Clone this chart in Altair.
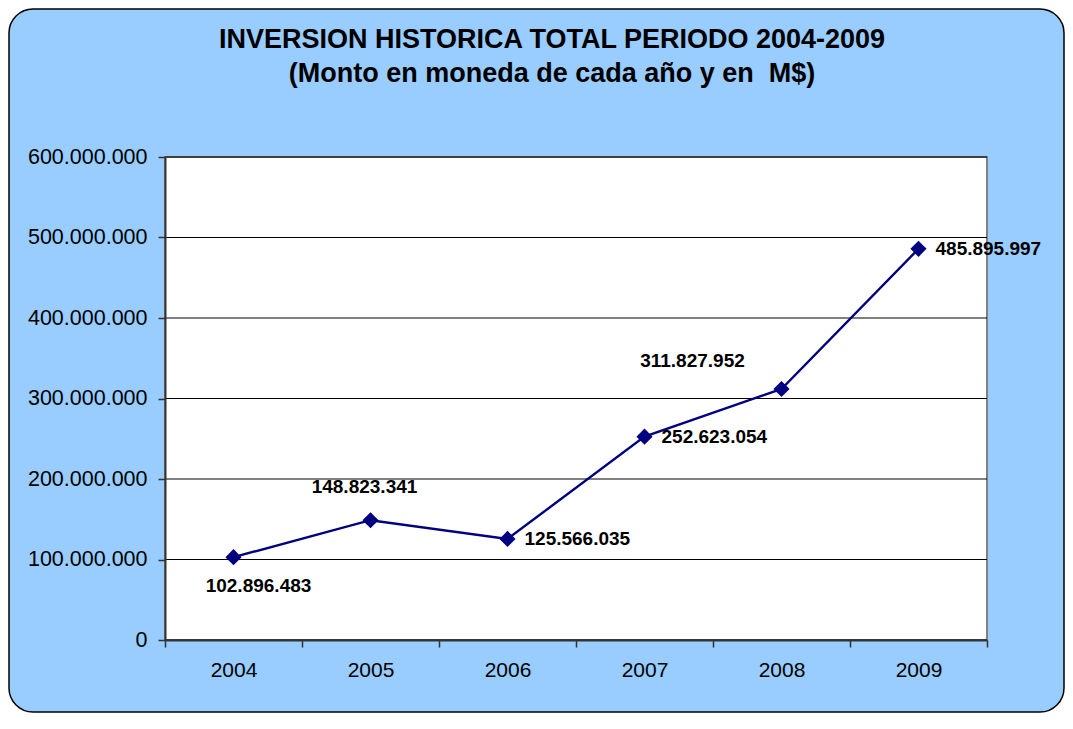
import altair as alt
import pandas as pd

years = ["2004", "2005", "2006", "2007", "2008", "2009"]
values = [102896483, 148823341, 125566035, 252623054, 311827952, 485895997]
labels = ["102.896.483", "148.823.341", "125.566.035", "252.623.054", "311.827.952", "485.895.997"]
y_ticks = [0, 100000000, 200000000, 300000000, 400000000, 500000000, 600000000]
title_line1 = "INVERSION HISTORICA TOTAL PERIODO 2004-2009"
title_line2 = "(Monto en moneda de cada año y en \u00a0M$)"

df = pd.DataFrame({"year": years, "value": values, "label": labels})
grid_df = pd.DataFrame({"value": y_ticks})

W, H = 822, 483
PL, PT, PR, PB = 157, 149, 78, 73
FONT = "Liberation Sans"
NAVY = "#000080"

yscale = alt.Scale(domain=[0, 600000000], nice=False)
xscale = alt.Scale(type="band", paddingInner=0, paddingOuter=0)

one = alt.Data(values=[{"k": 1}])

bg = alt.Chart(one).mark_rect(
    fill="#99CCFF", stroke="black", strokeWidth=1.5, cornerRadius=24
).encode(
    x=alt.value(-PL + 1), x2=alt.value(W + PR - 1),
    y=alt.value(-PT + 1), y2=alt.value(H + PB - 1)
)

plot_bg = alt.Chart(one).mark_rect(
    fill="white", stroke="#808080", strokeWidth=2
).encode(
    x=alt.value(0), x2=alt.value(W), y=alt.value(0), y2=alt.value(H)
)

title1 = alt.Chart(one).mark_text(
    align="center", baseline="alphabetic", fontSize=27, fontWeight="bold",
    font=FONT, color="black"
).encode(x=alt.value(W / 2 - 24), y=alt.value(-109), text=alt.value(title_line1))

title2 = alt.Chart(one).mark_text(
    align="center", baseline="alphabetic", fontSize=27, fontWeight="bold",
    font=FONT, color="black"
).encode(x=alt.value(W / 2 - 24), y=alt.value(-75), text=alt.value(title_line2))

x_enc = alt.X(
    "year:O", scale=xscale, title=None,
    axis=alt.Axis(
        labelAngle=0, tickBand="extent", labelFontSize=21, labelFont=FONT,
        labelColor="black", labelPadding=12, tickSize=7, tickColor="#333333",
        domainColor="#333333", domainWidth=2, tickWidth=1.5, grid=False, zindex=1,
    ),
)
y_axis = alt.Axis(
    values=y_ticks, labelFontSize=21.5, labelFont=FONT, labelColor="black",
    labelPadding=11, tickSize=7, tickColor="#333333", domainColor="#333333",
    domainWidth=2, tickWidth=1.5, grid=False, zindex=1,
    labelExpr="replace(format(datum.value, ','), /,/g, '.')",
)
y_enc = alt.Y("value:Q", scale=yscale, title=None, axis=y_axis)

grid = alt.Chart(grid_df).mark_rule(color="black", strokeWidth=1).encode(y=y_enc)

line = alt.Chart(df).mark_line(color=NAVY, strokeWidth=2.4).encode(x=x_enc, y=y_enc)
pts = alt.Chart(df).mark_point(
    shape="diamond", filled=True, color=NAVY, size=260, opacity=1
).encode(x=x_enc, y=y_enc)

label_style = [
    ("2004", "center", 25, 29),
    ("2005", "center", -6, -33),
    ("2006", "left", 17, 0),
    ("2007", "left", 17, 0),
    ("2008", "center", -89, -28),
    ("2009", "left", 17, 0),
]
texts = []
for yr, al, dx, dy in label_style:
    texts.append(
        alt.Chart(df).transform_filter(alt.datum.year == yr).mark_text(
            align=al, baseline="middle", dx=dx, dy=dy, fontSize=19,
            fontWeight="bold", font=FONT, color="black"
        ).encode(x=x_enc, y=y_enc, text="label:N")
    )

chart = alt.layer(bg, plot_bg, grid, line, pts, *texts, title1, title2).properties(
    width=W, height=H,
    autosize=alt.AutoSizeParams(type="none"),
    padding={"left": PL, "top": PT, "right": PR, "bottom": PB},
).configure_view(stroke=None, fill=None).configure(background="white")

chart.save("out.html", embed_options={"renderer": "svg", "actions": False})
